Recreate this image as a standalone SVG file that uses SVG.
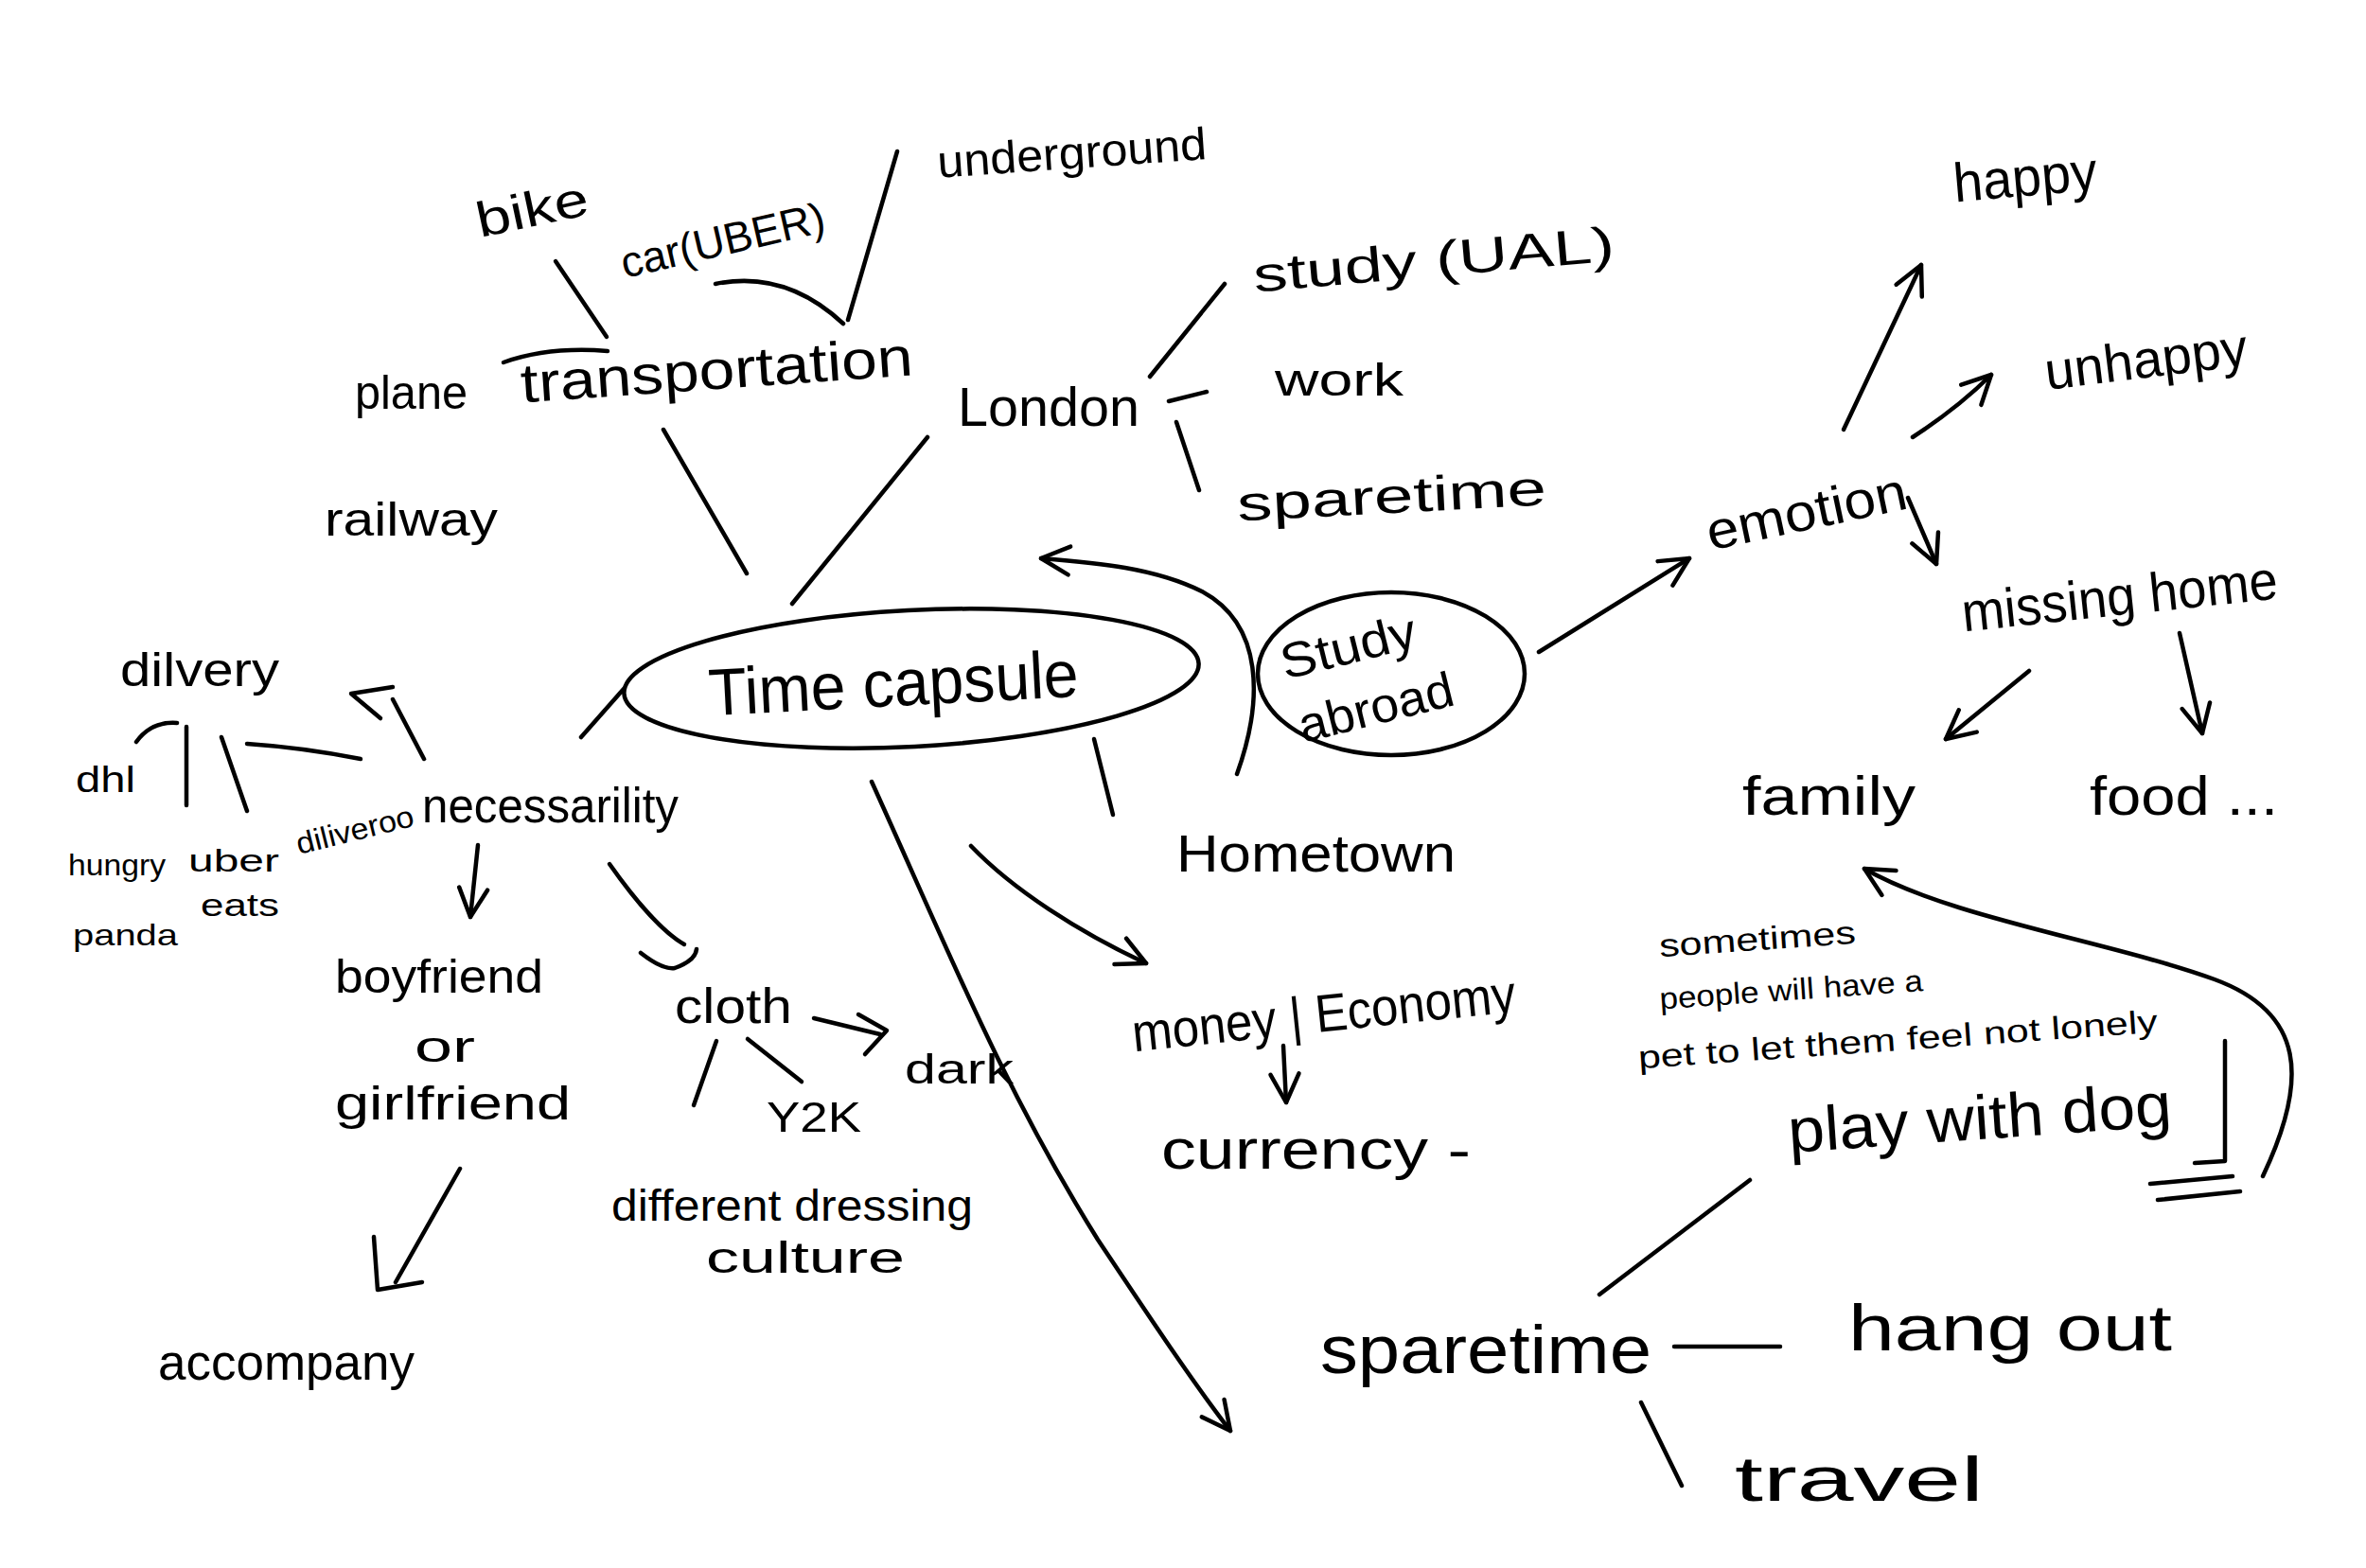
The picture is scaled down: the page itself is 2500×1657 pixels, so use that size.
<svg xmlns="http://www.w3.org/2000/svg" width="2500" height="1657" viewBox="0 0 2500 1657">
<style>
.t{font-family:"Liberation Sans","DejaVu Sans",sans-serif;fill:#000}
.c{fill:none;stroke:#000;stroke-width:4.5;stroke-linecap:round;stroke-linejoin:round}
.a{marker-end:url(#arr)}
</style>
<defs>
<marker id="arr" viewBox="0 0 40 40" refX="36" refY="20" markerWidth="40" markerHeight="40" markerUnits="userSpaceOnUse" orient="auto">
<path d="M6,5 L36,20 L6,35" fill="none" stroke="#000" stroke-width="4.5" stroke-linecap="round" stroke-linejoin="round"/>
</marker>
</defs>
<rect width="2500" height="1657" fill="#fff"/>

<g id="connectors">
<path class="c" d="M587,276 L641,356"/>
<path class="c" d="M532,383 Q580,366 642,371"/>
<path class="c" d="M756,300 Q830,285 891,342"/>
<path class="c" d="M948,160 L896,338"/>
<path class="c" d="M701,454 L789,606"/>
<path class="c" d="M980,462 L837,638"/>
<path class="c" d="M1294,300 L1215,398"/>
<path class="c" d="M1235,424 L1275,414"/>
<path class="c" d="M1243,446 L1267,518"/>
<path class="c a" d="M1307,818 C1335,740 1335,660 1270,625 C1220,600 1160,595 1100,590"/>
<path class="c a" d="M1626,689 L1785,590"/>
<path class="c a" d="M1948,454 L2030,280"/>
<path class="c a" d="M2021,462 Q2070,430 2104,396"/>
<path class="c a" d="M2016,526 L2046,596"/>
<path class="c a" d="M2144,709 L2056,781"/>
<path class="c a" d="M2303,669 L2327,775"/>
<path class="c a" d="M2391,1243 C2440,1140 2435,1070 2340,1035 C2230,995 2060,970 1970,918"/>
<path class="c" d="M2351,1100 L2351,1227 L2319,1229"/>
<path class="c" d="M2272,1251 L2359,1243"/>
<path class="c" d="M2280,1268 L2367,1259"/>
<path class="c" d="M1690,1368 L1849,1247"/>
<path class="c" d="M1769,1423 L1881,1423"/>
<path class="c" d="M1734,1482 L1777,1570"/>
<path class="c a" d="M921,826 C1000,1000 1060,1150 1160,1310 C1220,1400 1260,1460 1300,1512"/>
<path class="c a" d="M1026,894 C1070,940 1140,985 1211,1018"/>
<path class="c" d="M1156,781 L1176,861"/>
<path class="c a" d="M1356,1105 L1359,1165"/>
<path class="c" d="M659,728 L614,779"/>
<path class="c" d="M448,802 L415,739"/>
<path class="c" d="M415,726 L371,733 L402,759"/>
<path class="c" d="M261,786 Q320,790 381,802"/>
<path class="c" d="M144,784 Q160,762 187,764"/>
<path class="c" d="M197,768 L197,851"/>
<path class="c" d="M234,779 L261,857"/>
<path class="c a" d="M505,893 L497,969"/>
<path class="c" d="M644,913 C670,950 700,985 723,998"/>
<path class="c" d="M677,1007 Q700,1025 713,1023 Q735,1015 736,1003"/>
<path class="c" d="M860,1076 L930,1093"/>
<path class="c" d="M907,1072 L937,1089 L914,1114"/>
<path class="c" d="M757,1100 L733,1168"/>
<path class="c" d="M790,1098 L847,1143"/>
<path class="c" d="M486,1235 L418,1355"/>
<path class="c" d="M395,1307 L399,1363 L446,1355"/>
</g>

<g id="time-capsule">
<ellipse class="c" cx="963" cy="717" rx="304" ry="72" transform="rotate(-3 963 717)"/>
<text class="t" x="749" y="746" font-size="70" textLength="391" lengthAdjust="spacingAndGlyphs" transform="rotate(-3 945 730)">Time capsule</text>
</g>
<g id="study-abroad">
<ellipse class="c" cx="1470" cy="712" rx="141" ry="86"/>
<text class="t" x="1352" y="701" font-size="52" textLength="146" lengthAdjust="spacingAndGlyphs" transform="rotate(-14 1425 685)">Study</text>
<text class="t" x="1371" y="765" font-size="52" textLength="167" lengthAdjust="spacingAndGlyphs" transform="rotate(-14 1455 750)">abroad</text>
</g>
<g id="transportation"><text class="t" x="550" y="411" font-size="58" textLength="415" lengthAdjust="spacingAndGlyphs" transform="rotate(-4 757 395)">transportation</text></g>
<g id="bike"><text class="t" x="502" y="239" font-size="52" textLength="120" lengthAdjust="spacingAndGlyphs" transform="rotate(-12 562 220)">bike</text></g>
<g id="car"><text class="t" x="660" y="294" font-size="46" textLength="220" lengthAdjust="spacingAndGlyphs" transform="rotate(-13 660 294)">car(UBER)</text></g>
<g id="underground"><text class="t" x="990" y="178" font-size="48" textLength="285" lengthAdjust="spacingAndGlyphs" transform="rotate(-4 1132 160)">underground</text></g>
<g id="plane"><text class="t" x="375" y="432" font-size="50" textLength="119" lengthAdjust="spacingAndGlyphs">plane</text></g>
<g id="railway"><text class="t" x="343" y="566" font-size="50" textLength="183" lengthAdjust="spacingAndGlyphs">railway</text></g>
<g id="london"><text class="t" x="1012" y="450" font-size="58" textLength="192" lengthAdjust="spacingAndGlyphs">London</text></g>
<g id="study-ual"><text class="t" x="1323" y="292" font-size="52" textLength="383" lengthAdjust="spacingAndGlyphs" transform="rotate(-5 1515 270)">study (UAL)</text></g>
<g id="work"><text class="t" x="1347" y="418" font-size="48" textLength="136" lengthAdjust="spacingAndGlyphs">work</text></g>
<g id="sparetime-london"><text class="t" x="1307" y="542" font-size="52" textLength="327" lengthAdjust="spacingAndGlyphs" transform="rotate(-3 1470 525)">sparetime</text></g>
<g id="emotion"><text class="t" x="1801" y="560" font-size="56" textLength="215" lengthAdjust="spacingAndGlyphs" transform="rotate(-12 1908 540)">emotion</text></g>
<g id="happy"><text class="t" x="2064" y="207" font-size="58" textLength="152" lengthAdjust="spacingAndGlyphs" transform="rotate(-5 2140 190)">happy</text></g>
<g id="unhappy"><text class="t" x="2160" y="399" font-size="56" textLength="215" lengthAdjust="spacingAndGlyphs" transform="rotate(-7 2267 380)">unhappy</text></g>
<g id="missing-home"><text class="t" x="2072" y="650" font-size="58" textLength="335" lengthAdjust="spacingAndGlyphs" transform="rotate(-6 2240 630)">missing home</text></g>
<g id="family"><text class="t" x="1841" y="861" font-size="58" textLength="183" lengthAdjust="spacingAndGlyphs">family</text></g>
<g id="food"><text class="t" x="2208" y="861" font-size="58" textLength="199" lengthAdjust="spacingAndGlyphs">food ...</text></g>
<g id="pet-note">
<text class="t" x="1753" y="1004" font-size="34" textLength="208" lengthAdjust="spacingAndGlyphs" transform="rotate(-4 1857 995)">sometimes</text>
<text class="t" x="1753" y="1057" font-size="32" textLength="279" lengthAdjust="spacingAndGlyphs" transform="rotate(-4 1890 1045)">people will have a</text>
<text class="t" x="1730" y="1110" font-size="34" textLength="550" lengthAdjust="spacingAndGlyphs" transform="rotate(-4 2005 1095)">pet to let them feel not lonely</text>
</g>
<g id="play-with-dog"><text class="t" x="1889" y="1204" font-size="66" textLength="406" lengthAdjust="spacingAndGlyphs" transform="rotate(-4 2090 1185)">play with dog</text></g>
<g id="sparetime"><text class="t" x="1395" y="1451" font-size="72" textLength="350" lengthAdjust="spacingAndGlyphs">sparetime</text></g>
<g id="hang-out"><text class="t" x="1953" y="1427" font-size="68" textLength="342" lengthAdjust="spacingAndGlyphs">hang out</text></g>
<g id="travel"><text class="t" x="1833" y="1586" font-size="66" textLength="263" lengthAdjust="spacingAndGlyphs">travel</text></g>
<g id="hometown"><text class="t" x="1243" y="921" font-size="56" textLength="295" lengthAdjust="spacingAndGlyphs">Hometown</text></g>
<g id="money"><text class="t" x="1195" y="1090" font-size="56" textLength="407" lengthAdjust="spacingAndGlyphs" transform="rotate(-6 1400 1070)">money | Economy</text></g>
<g id="currency"><text class="t" x="1227" y="1235" font-size="60" textLength="327" lengthAdjust="spacingAndGlyphs">currency -</text></g>
<g id="dilvery"><text class="t" x="127" y="725" font-size="50" textLength="168" lengthAdjust="spacingAndGlyphs">dilvery</text></g>
<g id="dhl"><text class="t" x="80" y="837" font-size="38" textLength="63" lengthAdjust="spacingAndGlyphs">dhl</text></g>
<g id="hungry-panda">
<text class="t" x="72" y="925" font-size="32" textLength="103" lengthAdjust="spacingAndGlyphs">hungry</text>
<text class="t" x="77" y="999" font-size="32" textLength="111" lengthAdjust="spacingAndGlyphs">panda</text>
</g>
<g id="uber-eats">
<text class="t" x="199" y="921" font-size="34" textLength="96" lengthAdjust="spacingAndGlyphs">uber</text>
<text class="t" x="212" y="968" font-size="34" textLength="83" lengthAdjust="spacingAndGlyphs">eats</text>
</g>
<g id="diliveroo"><text class="t" x="311" y="888" font-size="32" textLength="127" lengthAdjust="spacingAndGlyphs" transform="rotate(-14 375 875)">diliveroo</text></g>
<g id="necessarility"><text class="t" x="446" y="869" font-size="52" textLength="271" lengthAdjust="spacingAndGlyphs">necessarility</text></g>
<g id="boyfriend">
<text class="t" x="354" y="1049" font-size="50" textLength="220" lengthAdjust="spacingAndGlyphs">boyfriend</text>
<text class="t" x="438" y="1122" font-size="46" textLength="64" lengthAdjust="spacingAndGlyphs">or</text>
<text class="t" x="354" y="1183" font-size="50" textLength="249" lengthAdjust="spacingAndGlyphs">girlfriend</text>
</g>
<g id="accompany"><text class="t" x="167" y="1458" font-size="54" textLength="271" lengthAdjust="spacingAndGlyphs">accompany</text></g>
<g id="cloth"><text class="t" x="713" y="1081" font-size="52" textLength="124" lengthAdjust="spacingAndGlyphs">cloth</text></g>
<g id="dark"><text class="t" x="956" y="1145" font-size="44" textLength="115" lengthAdjust="spacingAndGlyphs">dark</text></g>
<g id="y2k"><text class="t" x="810" y="1196" font-size="44" textLength="100" lengthAdjust="spacingAndGlyphs">Y2K</text></g>
<g id="dressing-culture">
<text class="t" x="646" y="1290" font-size="46" textLength="382" lengthAdjust="spacingAndGlyphs">different dressing</text>
<text class="t" x="746" y="1345" font-size="46" textLength="210" lengthAdjust="spacingAndGlyphs">culture</text>
</g>
</svg>
